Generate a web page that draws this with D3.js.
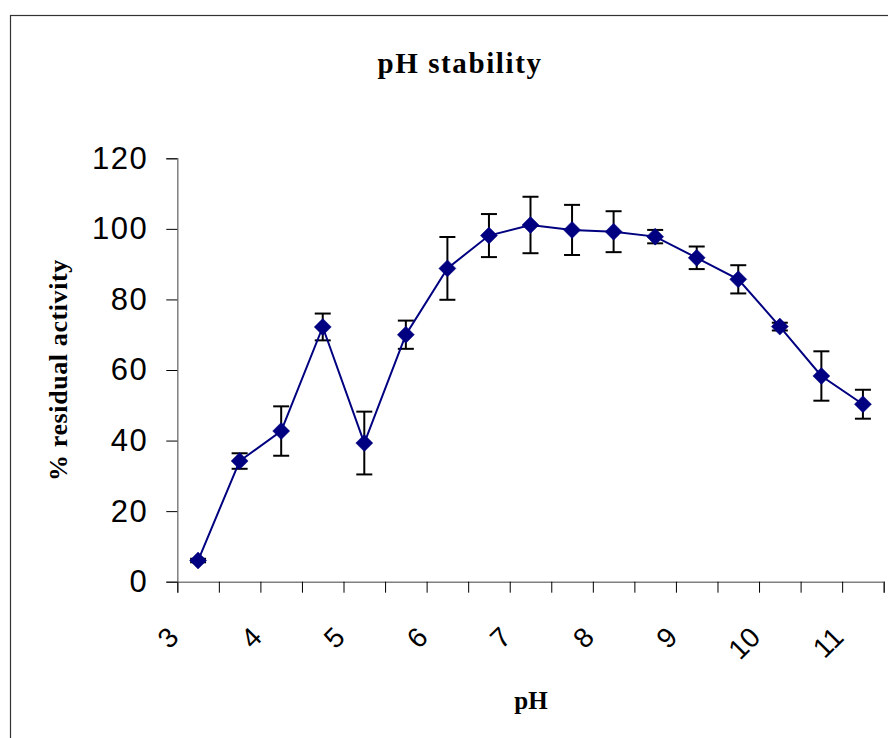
<!DOCTYPE html>
<html>
<head>
<meta charset="utf-8">
<script src="https://cdn.jsdelivr.net/npm/d3@7/dist/d3.min.js"></script>
<style>
  html, body { margin: 0; padding: 0; background: #fff; }
  svg { display: block; }
</style>
</head>
<body>
<svg id="chart" width="888" height="738"></svg>
<script>
// pH categories (17 points, step 0.5)
const phValues = [3, 3.5, 4, 4.5, 5, 5.5, 6, 6.5, 7, 7.5, 8, 8.5, 9, 9.5, 10, 10.5, 11];
// % residual activity
const activity = [6, 34.2, 42.7, 72.2, 39.3, 70, 88.8, 98.1, 101.1, 99.7, 99.2, 97.8, 91.8, 85.7, 72.3, 58.3, 50.3];
// error (± )
const errors = [0.5, 2.2, 7, 3.8, 8.9, 4, 8.9, 6.1, 8, 7.1, 5.8, 1.9, 3.2, 4, 1.1, 7, 4.1];
// axis tick labels
const xTickLabels = ["3", "4", "5", "6", "7", "8", "9", "10", "11"];
const yTicks = [0, 20, 40, 60, 80, 100, 120];

const svg = d3.select("#chart");

// chart frame
svg.append("rect")
  .attr("x", 10.5).attr("y", 15.5)
  .attr("width", 900).attr("height", 760)
  .attr("fill", "#fff")
  .attr("stroke", "#333").attr("stroke-width", 1.2);

const plot = { left: 177.3, right: 883.7, top: 158.3, bottom: 581.7 };

const x = d3.scaleLinear().domain([0, phValues.length]).range([plot.left, plot.right]);
const y = d3.scaleLinear().domain([0, 120]).range([plot.bottom, plot.top]);

// Title
svg.append("text")
  .attr("x", 460).attr("y", 73)
  .attr("text-anchor", "middle")
  .attr("font-family", "Liberation Serif, 'Times New Roman', serif")
  .attr("font-weight", "bold")
  .attr("font-size", 29)
  .attr("letter-spacing", 1.6)
  .text("pH stability");

// Y axis
const yAxis = d3.axisLeft(y).tickValues(yTicks).tickSize(11).tickPadding(18);
const gy = svg.append("g").attr("transform", `translate(${plot.left},0)`).call(yAxis);
gy.select(".domain").attr("stroke", "#808080").attr("stroke-width", 1.5);
gy.selectAll(".tick line").attr("stroke", "#000").attr("stroke-width", 1);
gy.selectAll(".tick text")
  .attr("font-family", "Liberation Sans, Arial, sans-serif")
  .attr("font-size", 31)
  .attr("letter-spacing", 1.5)
  .attr("fill", "#000");

// X axis (category boundaries)
const xTickIdx = d3.range(0, phValues.length + 1);
const xAxis = d3.axisBottom(x).tickValues(xTickIdx).tickSize(11).tickFormat(() => "");
const gx = svg.append("g").attr("transform", `translate(0,${plot.bottom})`).call(xAxis);
gx.select(".domain").attr("stroke", "#808080").attr("stroke-width", 1.5);
gx.selectAll(".tick line").attr("stroke", "#000").attr("stroke-width", 1);

// rotated x labels at every second boundary
svg.append("g").selectAll("text")
  .data(xTickLabels)
  .join("text")
  .attr("transform", (d, i) => `translate(${x(i * 2) + 3},${639}) rotate(-45)`)
  .attr("text-anchor", "end")
  .attr("font-family", "Liberation Sans, Arial, sans-serif")
  .attr("font-size", 28)
  .attr("fill", "#000")
  .text(d => d);

// Axis titles
svg.append("text")
  .attr("transform", "translate(67,370) rotate(-90)")
  .attr("text-anchor", "middle")
  .attr("font-family", "Liberation Serif, 'Times New Roman', serif")
  .attr("font-weight", "bold")
  .attr("font-size", 26)
  .attr("letter-spacing", 0.6)
  .text("% residual activity");

svg.append("text")
  .attr("x", 531).attr("y", 709)
  .attr("text-anchor", "middle")
  .attr("font-family", "Liberation Serif, 'Times New Roman', serif")
  .attr("font-weight", "bold")
  .attr("font-size", 25)
  .text("pH");

const data = phValues.map((p, i) => ({ i, p, v: activity[i], e: errors[i] }));
const cx = d => x(d.i + 0.5);

// error bars
const eb = svg.append("g").attr("stroke", "#000").attr("stroke-width", 2);
eb.selectAll("line.v").data(data).join("line").attr("class", "v")
  .attr("x1", cx).attr("x2", cx)
  .attr("y1", d => y(d.v + d.e)).attr("y2", d => y(d.v - d.e));
eb.selectAll("line.t").data(data).join("line").attr("class", "t")
  .attr("x1", d => cx(d) - 8).attr("x2", d => cx(d) + 8)
  .attr("y1", d => y(d.v + d.e)).attr("y2", d => y(d.v + d.e));
eb.selectAll("line.b").data(data).join("line").attr("class", "b")
  .attr("x1", d => cx(d) - 8).attr("x2", d => cx(d) + 8)
  .attr("y1", d => y(d.v - d.e)).attr("y2", d => y(d.v - d.e));

// line
svg.append("path")
  .datum(data)
  .attr("fill", "none")
  .attr("stroke", "#000080")
  .attr("stroke-width", 2)
  .attr("d", d3.line().x(cx).y(d => y(d.v)));

// diamond markers
svg.append("g").selectAll("path")
  .data(data)
  .join("path")
  .attr("transform", d => `translate(${cx(d)},${y(d.v)})`)
  .attr("d", "M0,-8.5L8.5,0L0,8.5L-8.5,0Z")
  .attr("fill", "#000080")
  .attr("stroke", "#000080")
  .attr("stroke-width", 0.5);
</script>
</body>
</html>
